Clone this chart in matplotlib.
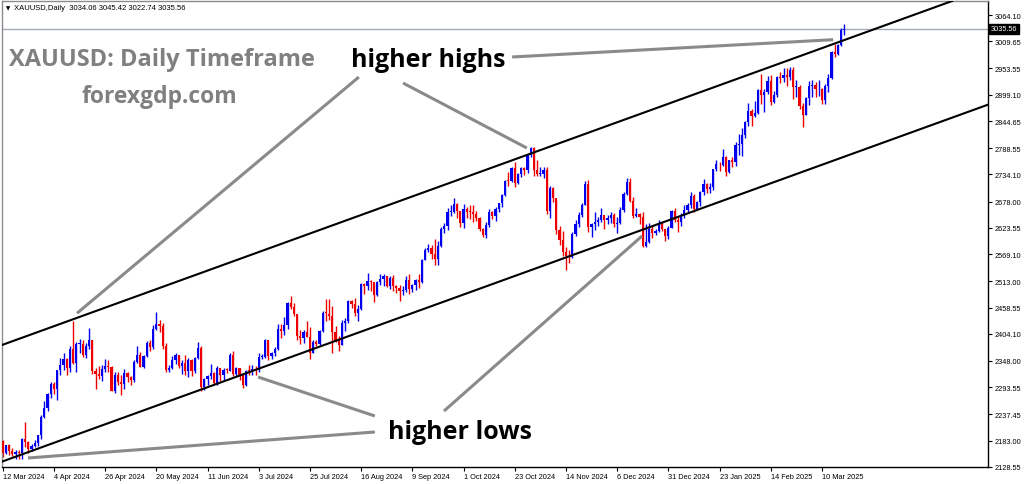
import numpy as np
import pandas as pd
import matplotlib
matplotlib.use('Agg')
import matplotlib.pyplot as plt
import matplotlib.transforms as mtransforms

# XAUUSD daily bars, 12 Mar 2024 -> 19 Mar 2025 (one row per month)
closes = [
    2158, 2174, 2162, 2155, 2160, 2157, 2186, 2181, 2165, 2172, 2179, 2194, 2233,
    2251, 2280, 2300, 2290, 2329, 2339, 2352, 2333, 2372, 2344, 2383, 2383, 2361, 2379, 2391, 2327, 2322, 2316, 2332, 2337, 2335, 2286,
    2320, 2304, 2301, 2323, 2314, 2309, 2346, 2360, 2336, 2358, 2386, 2376, 2415, 2425, 2421, 2379, 2329, 2334, 2350, 2361, 2338, 2343, 2327,
    2350, 2327, 2355, 2375, 2294, 2311, 2316, 2324, 2303, 2333, 2319, 2329, 2328, 2360, 2322, 2334, 2320, 2298, 2327, 2326,
    2332, 2330, 2356, 2356, 2392, 2358, 2364, 2372, 2415, 2411, 2422, 2469, 2459, 2445, 2400, 2396, 2409, 2398, 2364, 2387, 2384, 2410, 2447,
    2446, 2442, 2409, 2390, 2382, 2427, 2431, 2472, 2465, 2447, 2456, 2507, 2504, 2514, 2512, 2484, 2512, 2518, 2524, 2504, 2520, 2503,
    2500, 2493, 2495, 2516, 2497, 2506, 2516, 2512, 2558, 2578, 2582, 2570, 2559, 2587, 2622, 2628, 2657, 2657, 2672, 2658, 2634,
    2663, 2657, 2656, 2653, 2644, 2622, 2608, 2630, 2657, 2649, 2662, 2674, 2692, 2721, 2720, 2748, 2717, 2736, 2747, 2743, 2774, 2788, 2744,
    2736, 2736, 2743, 2659, 2707, 2685, 2619, 2598, 2573, 2565, 2563, 2611, 2631, 2650, 2670, 2715, 2625, 2632, 2636, 2640, 2650,
    2640, 2643, 2650, 2631, 2633, 2660, 2694, 2718, 2680, 2648, 2652, 2646, 2586, 2594, 2622, 2612, 2617, 2633, 2621, 2606, 2624,
    2658, 2640, 2636, 2648, 2661, 2670, 2690, 2663, 2677, 2697, 2715, 2703, 2708, 2745, 2755, 2754, 2771, 2740, 2763, 2760, 2794, 2798,
    2815, 2842, 2866, 2856, 2861, 2908, 2898, 2904, 2928, 2883, 2898, 2935, 2933, 2940, 2936, 2951, 2915, 2916, 2876, 2858,
    2893, 2918, 2920, 2910, 2910, 2889, 2917, 2933, 2988, 2984, 3001, 3034.06, 3035.56,
]
highs = [
    2184, 2175, 2176, 2168, 2164, 2163, 2188, 2222, 2183, 2176, 2184, 2195, 2236,
    2266, 2281, 2305, 2304, 2330, 2354, 2365, 2354, 2378, 2431, 2388, 2393, 2392, 2385, 2417, 2392, 2334, 2338, 2339, 2352, 2349, 2337,
    2326, 2326, 2320, 2331, 2326, 2317, 2350, 2378, 2366, 2360, 2389, 2391, 2422, 2450, 2432, 2426, 2385, 2340, 2358, 2364, 2360, 2351, 2361,
    2354, 2353, 2357, 2387, 2378, 2313, 2318, 2342, 2325, 2337, 2334, 2333, 2334, 2365, 2368, 2335, 2333, 2324, 2330, 2339,
    2339, 2337, 2365, 2363, 2393, 2392, 2367, 2376, 2425, 2425, 2440, 2470, 2483, 2468, 2446, 2412, 2412, 2431, 2418, 2391, 2392, 2413, 2451,
    2477, 2477, 2461, 2420, 2400, 2432, 2436, 2474, 2474, 2478, 2463, 2509, 2509, 2531, 2515, 2509, 2513, 2527, 2528, 2524, 2523, 2525,
    2506, 2506, 2503, 2523, 2529, 2507, 2517, 2529, 2560, 2582, 2590, 2589, 2600, 2596, 2625, 2634, 2664, 2670, 2686, 2674, 2659,
    2673, 2667, 2670, 2670, 2659, 2645, 2624, 2636, 2663, 2658, 2666, 2676, 2694, 2722, 2740, 2749, 2759, 2738, 2749, 2749, 2774, 2790, 2790,
    2763, 2750, 2750, 2749, 2710, 2709, 2684, 2627, 2618, 2584, 2578, 2615, 2639, 2656, 2675, 2721, 2722, 2634, 2657, 2645, 2665,
    2649, 2650, 2657, 2655, 2647, 2666, 2698, 2726, 2726, 2688, 2664, 2654, 2657, 2632, 2633, 2629, 2621, 2639, 2638, 2622, 2627,
    2660, 2665, 2649, 2655, 2670, 2674, 2697, 2694, 2680, 2699, 2724, 2716, 2717, 2746, 2763, 2759, 2786, 2772, 2765, 2770, 2801, 2817,
    2830, 2845, 2882, 2870, 2886, 2911, 2942, 2910, 2938, 2940, 2906, 2938, 2946, 2955, 2954, 2956, 2956, 2930, 2920, 2882,
    2894, 2928, 2930, 2926, 2930, 2914, 2922, 2941, 2990, 3005, 3004, 3038, 3045.42,
]
lows = [
    2150, 2155, 2154, 2152, 2146, 2146, 2146, 2170, 2157, 2162, 2169, 2171, 2186,
    2229, 2244, 2272, 2280, 2268, 2320, 2330, 2319, 2325, 2342, 2325, 2364, 2357, 2355, 2372, 2321, 2291, 2310, 2307, 2326, 2325, 2285,
    2281, 2299, 2277, 2291, 2305, 2298, 2305, 2343, 2335, 2333, 2357, 2369, 2373, 2412, 2408, 2373, 2326, 2325, 2332, 2342, 2334, 2321, 2319,
    2314, 2317, 2324, 2352, 2286, 2287, 2298, 2310, 2301, 2299, 2307, 2308, 2323, 2328, 2316, 2316, 2309, 2293, 2297, 2319,
    2318, 2318, 2326, 2352, 2354, 2351, 2352, 2359, 2370, 2396, 2402, 2415, 2455, 2441, 2392, 2384, 2385, 2397, 2353, 2365, 2380, 2381, 2409,
    2430, 2433, 2364, 2388, 2368, 2381, 2411, 2427, 2457, 2442, 2431, 2454, 2487, 2494, 2493, 2470, 2482, 2506, 2504, 2502, 2497, 2493,
    2489, 2472, 2484, 2490, 2486, 2490, 2495, 2500, 2510, 2556, 2574, 2560, 2546, 2546, 2584, 2613, 2619, 2648, 2655, 2643, 2625,
    2624, 2643, 2641, 2636, 2637, 2617, 2604, 2603, 2625, 2641, 2637, 2656, 2667, 2690, 2710, 2718, 2708, 2715, 2728, 2732, 2737, 2771, 2731,
    2731, 2730, 2726, 2652, 2643, 2677, 2610, 2589, 2565, 2537, 2550, 2562, 2606, 2626, 2646, 2670, 2614, 2605, 2620, 2628, 2636,
    2622, 2631, 2633, 2626, 2613, 2631, 2656, 2691, 2677, 2643, 2645, 2631, 2583, 2583, 2592, 2602, 2609, 2614, 2616, 2597, 2601,
    2624, 2635, 2615, 2627, 2644, 2657, 2665, 2657, 2660, 2668, 2692, 2695, 2696, 2701, 2741, 2742, 2752, 2731, 2737, 2749, 2752, 2774,
    2772, 2810, 2834, 2834, 2853, 2860, 2880, 2864, 2900, 2878, 2881, 2895, 2923, 2925, 2918, 2929, 2890, 2894, 2869, 2832,
    2857, 2878, 2894, 2894, 2896, 2880, 2880, 2905, 2931, 2977, 2982, 2999, 3022.74,
]
first_open = 2182
holidays = ['2024-03-29', '2024-12-25', '2025-01-01']

x_labels = ['12 Mar 2024', '4 Apr 2024', '26 Apr 2024', '20 May 2024', '11 Jun 2024', '3 Jul 2024',
            '25 Jul 2024', '16 Aug 2024', '9 Sep 2024', '1 Oct 2024', '23 Oct 2024', '14 Nov 2024',
            '6 Dec 2024', '31 Dec 2024', '23 Jan 2025', '14 Feb 2025', '10 Mar 2025']
y_ticks = [3064.10, 3009.65, 2953.55, 2899.10, 2844.65, 2788.55, 2734.10, 2678.00, 2623.55,
           2569.10, 2513.00, 2458.55, 2404.10, 2348.00, 2293.55, 2237.45, 2183.00, 2128.55]
last_price = 3035.56

# channel lines: (bar, price) anchor + slope per bar
upper_channel = (0, 2381.6)
lower_channel = (0, 2140.2)
channel_slope = 2.398

# annotation pointer lines (bar, price) pairs
highs_pointers = [[(111.3, 2935.7), (23.2, 2446.7)],
                  [(125.1, 2923.3), (163.8, 2788.8)],
                  [(159.2, 2977.2), (259.5, 3013.0)]]
lows_pointers = [[(116.3, 2234.1), (79.8, 2314.8)],
                 [(116.3, 2201.0), (7.9, 2147.2)],
                 [(137.9, 2244.4), (199.8, 2606.7)]]

dates = pd.bdate_range('2024-03-12', '2025-03-19', freq='C', holidays=holidays)
df = pd.DataFrame({'Close': closes, 'High': highs, 'Low': lows}, index=dates)
df['Open'] = df['Close'].shift(1).fillna(first_open)
xs = np.arange(len(df))

small = 'Liberation Sans'

fig = plt.figure(figsize=(10.24, 4.85), dpi=100)
ax = fig.add_axes([2 / 1024, 17 / 485, 986 / 1024, 466 / 485])

bull = df['Close'] >= df['Open']
cols = np.where(bull, '#0000ee', '#ee0000')
ax.vlines(xs, df['Low'], df['High'], colors=cols, lw=1.0, zorder=2)
body = (df['Close'] - df['Open']).values
body = np.where(np.abs(body) < 1.5, 1.5, body)
ax.bar(xs, body, bottom=df['Open'], width=0.7, color=cols, lw=0, zorder=3)

# current price line
ax.axhline(last_price, color='#a3abb8', lw=1, zorder=1)

# channel
ax.axline(upper_channel, slope=channel_slope, color='black', lw=1.5, zorder=4)
ax.axline(lower_channel, slope=channel_slope, color='black', lw=1.5, zorder=4)

for (a, b) in highs_pointers + lows_pointers:
    ax.plot([a[0], b[0]], [a[1], b[1]], color='#8a8a8a', lw=2.2, solid_capstyle='butt', zorder=5)

ax.text(132.9, 2973, 'higher highs', ha='center', va='center', fontsize=18,
        fontweight='bold', family='Open Sans', color='black', zorder=6)
ax.text(142.9, 2201, 'higher lows', ha='center', va='center', fontsize=18,
        fontweight='bold', family='Open Sans', color='black', zorder=6)

ax.text(0.0071, 0.8755, 'XAUUSD: Daily Timeframe', transform=ax.transAxes, ha='left', va='center',
        fontsize=17, fontweight='bold', family='Open Sans', color='#808080')
ax.text(0.160, 0.796, 'forexgdp.com', transform=ax.transAxes, ha='center', va='center',
        fontsize=16.5, fontweight='bold', family='Open Sans', color='#808080')

ax.text(0.0122, 0.985, 'XAUUSD,Daily  3034.06 3045.42 3022.74 3035.56', transform=ax.transAxes,
        ha='left', va='center', fontsize=5.5, family=small, color='black')
ax.text(0.0045, 0.985, '\u25bc', transform=ax.transAxes, ha='left', va='center', fontsize=4, color='black')

ax.set_xlim(-0.22, 307.9)
ax.set_ylim(2128.55, 3093.08)

tick_pos = dates.get_indexer(pd.to_datetime(x_labels, format='%d %b %Y'))
ax.set_xticks(tick_pos)
ax.set_xticklabels(x_labels, fontsize=5.3, family=small)
offset = mtransforms.ScaledTranslation(2 / 100, 0, fig.dpi_scale_trans)
for lab in ax.get_xticklabels():
    lab.set_horizontalalignment('left')
    lab.set_transform(lab.get_transform() + offset)
ax.tick_params(axis='x', length=3, width=0.8, pad=1.5, color='black')

ax.yaxis.tick_right()
ax.set_yticks(y_ticks)
ax.set_yticklabels([f'{v:.2f}' for v in y_ticks], fontsize=5.3, family=small)
ax.tick_params(axis='y', length=3, width=0.8, pad=1.5, color='black')

ax.text(1.003, (last_price - 2128.55) / (3093.08 - 2128.55), f'{last_price:.2f}', transform=ax.transAxes,
        ha='left', va='center', fontsize=5.3, family=small, color='white',
        bbox=dict(boxstyle='square,pad=0.2', fc='black', ec='black'), clip_on=False)

for s in ['left', 'top']:
    ax.spines[s].set_color('#8c8c8c')
for s in ['right', 'bottom']:
    ax.spines[s].set_color('black')
for s in ax.spines.values():
    s.set_linewidth(1)

fig.savefig('out.png', dpi=100)
